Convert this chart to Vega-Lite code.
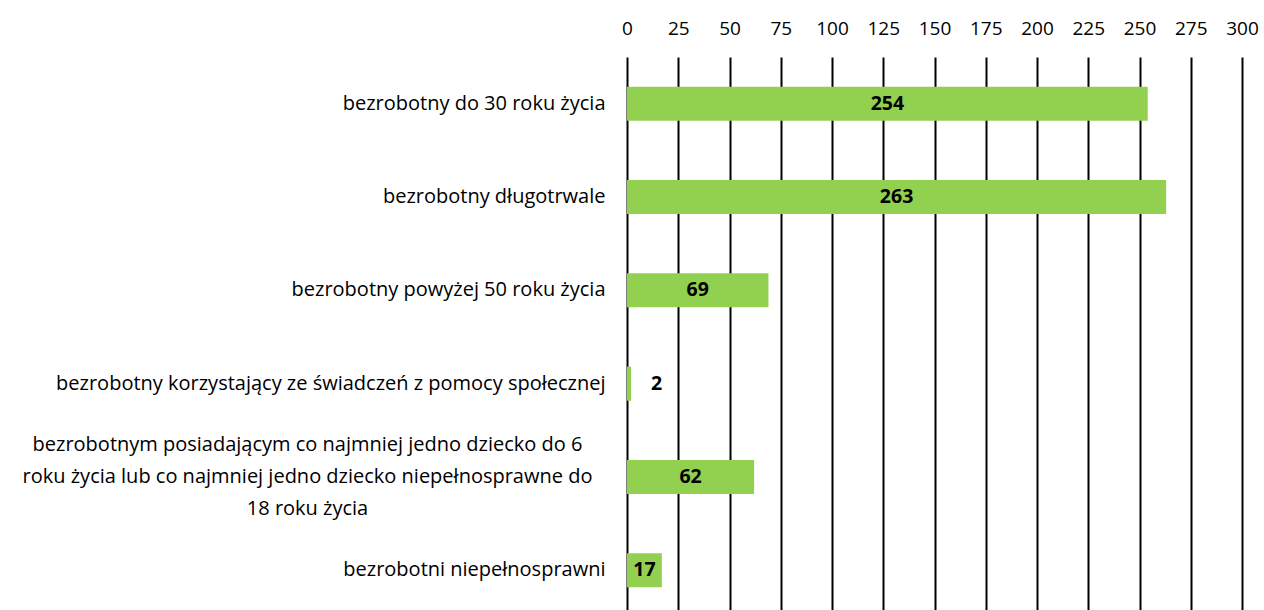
{
  "$schema": "https://vega.github.io/schema/vega-lite/v6.json",
  "autosize": "none",
  "padding": {"left": 627, "top": 55, "right": 22, "bottom": 0},
  "width": 615,
  "height": 555,
  "background": "white",
  "config": {"view": {"stroke": null}, "font": "Open Sans"},
  "data": {"values": [
    {"kategoria": "bezrobotny do 30 roku życia", "liczba": 254},
    {"kategoria": "bezrobotny długotrwale", "liczba": 263},
    {"kategoria": "bezrobotny powyżej 50 roku życia", "liczba": 69},
    {"kategoria": "bezrobotny korzystający ze świadczeń z pomocy społecznej", "liczba": 2},
    {"kategoria": "bezrobotnym posiadającym co najmniej jedno dziecko do 6 roku życia lub co najmniej jedno dziecko niepełnosprawne do 18 roku życia", "liczba": 62},
    {"kategoria": "bezrobotni niepełnosprawni", "liczba": 17}
  ]},
  "encoding": {
    "y": {
      "field": "kategoria", "type": "nominal", "sort": null, "title": null,
      "scale": {"paddingInner": 0.635, "paddingOuter": 0.3175, "range": [2, 562]},
      "axis": {
        "domain": false, "ticks": false, "labelFontSize": 20,
        "labelColor": "#000000", "labelFont": "Open Sans", "labelLimit": 700, "labelLineHeight": 32,
        "labelAlign": {"condition": {"test": "indexof(datum.value, 'posiadającym') >= 0", "value": "center"}, "value": "right"},
        "labelPadding": {"condition": {"test": "indexof(datum.value, 'posiadającym') >= 0", "value": 320}, "value": 22},
        "labelOffset": {"condition": {"test": "indexof(datum.value, 'posiadającym') >= 0", "value": -32}, "value": 0},
        "labelExpr": "indexof(datum.value, 'posiadającym') >= 0 ? ['bezrobotnym posiadającym co najmniej jedno dziecko do 6', 'roku życia lub co najmniej jedno dziecko niepełnosprawne do', '18 roku życia'] : datum.value"
      }
    }
  },
  "layer": [
    {
      "mark": {"type": "bar", "color": "#92D050"},
      "encoding": {
        "x": {
          "field": "liczba", "type": "quantitative", "title": null,
          "scale": {"domain": [0, 300], "nice": false},
          "axis": {
            "orient": "top", "values": [0,25,50,75,100,125,150,175,200,225,250,275,300],
            "domain": false, "ticks": false, "grid": true, "gridColor": "#000000", "gridWidth": 2, "gridOpacity": 1,
            "labelFontSize": 19, "labelColor": "#000000", "labelPadding": 17, "labelFont": "Open Sans", "labelFlush": false
          }
        }
      }
    },
    {
      "transform": [{"filter": "datum.liczba >= 10"}, {"calculate": "datum.liczba / 2", "as": "srodek"}],
      "mark": {"type": "text", "fontWeight": "bold", "fontSize": 19.5, "color": "#000000", "align": "center", "baseline": "middle", "font": "Open Sans"},
      "encoding": {
        "x": {"field": "srodek", "type": "quantitative"},
        "text": {"field": "liczba", "type": "quantitative"}
      }
    },
    {
      "transform": [{"filter": "datum.liczba < 10"}],
      "mark": {"type": "text", "fontWeight": "bold", "fontSize": 19.5, "color": "#000000", "align": "left", "baseline": "middle", "dx": 20, "font": "Open Sans"},
      "encoding": {
        "x": {"field": "liczba", "type": "quantitative"},
        "text": {"field": "liczba", "type": "quantitative"}
      }
    }
  ]
}
